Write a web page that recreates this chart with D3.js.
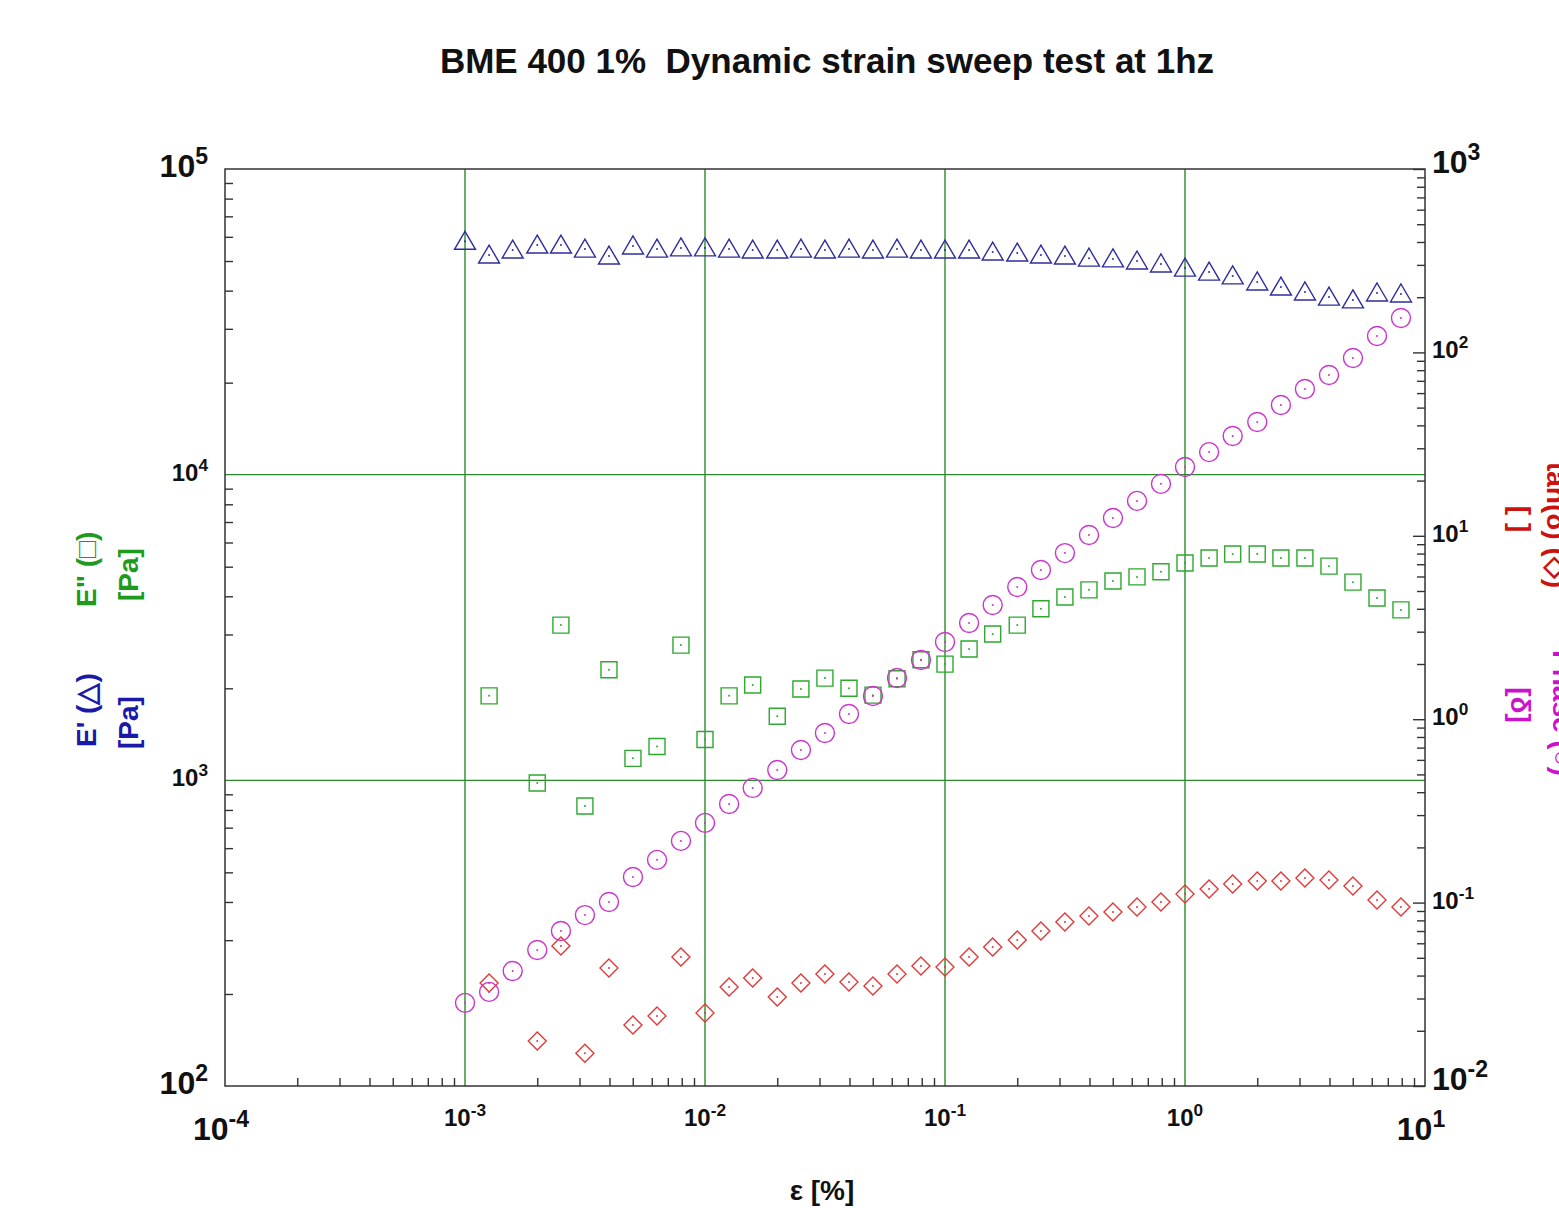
<!DOCTYPE html>
<html lang="en">
<head>
<meta charset="UTF-8">
<title>BME 400 1% Dynamic strain sweep test at 1hz</title>
<script src="https://cdn.jsdelivr.net/npm/d3@7"></script>
<style>
    html, body { margin: 0; padding: 0; background: #fff; }
    svg text { font-family: Arial, "Liberation Sans", sans-serif; font-weight: bold; }
    .axis path { display: none; }
    .axis line { stroke: #333; stroke-width: 1.4; }
</style>
</head>
<body>
<div id="chart"></div>
<script>
    /* strain [%], 10 points per decade */
    var strain = [0.001, 0.00126, 0.00158, 0.002, 0.00251, 0.00316, 0.00398, 0.00501, 0.00631, 0.00794,
        0.01, 0.0126, 0.0158, 0.02, 0.0251, 0.0316, 0.0398, 0.0501, 0.0631, 0.0794,
        0.1, 0.126, 0.158, 0.2, 0.251, 0.316, 0.398, 0.501, 0.631, 0.794,
        1, 1.26, 1.58, 2, 2.51, 3.16, 3.98, 5.01, 6.31, 7.94];
    /* E' [Pa] - triangles */
    var eStorage = [58000, 52300, 54300, 56400, 56400, 54700, 51900, 56000, 54700, 55200,
        55200, 54700, 54300, 54300, 54700, 54300, 54700, 54300, 54700, 54300,
        54300, 54300, 53500, 53100, 52300, 51900, 51100, 50800, 50000, 48900,
        47400, 46000, 44700, 42700, 41100, 39600, 38100, 37300, 39300, 39000];
    /* E'' [Pa] - squares */
    var eLoss = [null, 1890, null, 980, 3220, 824, 2300, 1180, 1290, 2770,
        1360, 1890, 2050, 1620, 1990, 2160, 2000, 1900, 2150, 2480,
        2400, 2690, 3010, 3220, 3640, 3980, 4200, 4490, 4630, 4810,
        5140, 5340, 5500, 5500, 5340, 5340, 5020, 4450, 3950, 3610];
    /* tan(delta) - diamonds */
    var tanDelta = [null, 0.0364, null, 0.0176, 0.058, 0.0151, 0.044, 0.0215, 0.0241, 0.0505,
        0.025, 0.0347, 0.0388, 0.0306, 0.0364, 0.0408, 0.0369, 0.0351, 0.0408, 0.0451,
        0.0446, 0.0505, 0.0573, 0.0625, 0.070, 0.0784, 0.0845, 0.0889, 0.0946, 0.1008,
        0.1114, 0.1186, 0.1263, 0.1312, 0.1312, 0.1362, 0.1328, 0.1232, 0.1033, 0.0946];
    /* circles on right axis */
    var phase = [0.0284, 0.0326, 0.0424, 0.0551, 0.070, 0.0855, 0.1008, 0.138, 0.171, 0.217,
        0.272, 0.345, 0.422, 0.528, 0.679, 0.841, 1.067, 1.338, 1.677, 2.103,
        2.636, 3.345, 4.198, 5.26, 6.51, 8.05, 10.1, 12.5, 15.5, 19.2,
        23.7, 28.6, 35.0, 41.7, 51.7, 63.2, 75.3, 93.2, 122.9, 154];

    var xDomain = [1e-4, 10];
    var yLeftDomain = [1e2, 1e5];
    var yRightDomain = [1e-2, 1e3];

    var W = 1559, H = 1208;
    var plot = {left: 225, right: 1425, top: 169, bottom: 1086};

    var svg = d3.select("#chart").append("svg")
        .attr("width", W)
        .attr("height", H);

    var x = d3.scaleLog().domain(xDomain).range([plot.left, plot.right]);
    var yL = d3.scaleLog().domain(yLeftDomain).range([plot.bottom, plot.top]);
    var yR = d3.scaleLog().domain(yRightDomain).range([plot.bottom, plot.top]);

    function isDecade(v) {
        var l = Math.log10(v);
        return Math.abs(l - Math.round(l)) < 1e-9;
    }

    /* grid */
    var grid = svg.append("g").attr("stroke", "#2a8a2a").attr("stroke-width", 1.4);
    x.ticks().filter(isDecade).forEach(function (v) {
        if (v <= xDomain[0] || v >= xDomain[1]) return;
        grid.append("line").attr("x1", x(v)).attr("x2", x(v))
            .attr("y1", plot.top).attr("y2", plot.bottom);
    });
    yL.ticks().filter(isDecade).forEach(function (v) {
        if (v <= yLeftDomain[0] || v >= yLeftDomain[1]) return;
        grid.append("line").attr("y1", yL(v)).attr("y2", yL(v))
            .attr("x1", plot.left).attr("x2", plot.right);
    });

    /* axis ticks (inside) */
    var xt = x.ticks(), ylt = yL.ticks(), yrt = yR.ticks();

    svg.append("g").attr("class", "axis")
        .attr("transform", "translate(0," + plot.bottom + ")")
        .call(d3.axisBottom(x).tickValues(xt.filter(function (v) { return !isDecade(v); }))
            .tickSize(-8).tickFormat(""));
    svg.append("g").attr("class", "axis")
        .attr("transform", "translate(" + plot.left + ",0)")
        .call(d3.axisLeft(yL).tickValues(ylt.filter(function (v) { return !isDecade(v); }))
            .tickSize(-8).tickFormat(""));
    svg.append("g").attr("class", "axis")
        .attr("transform", "translate(" + plot.right + ",0)")
        .call(d3.axisRight(yR).tickValues(yrt.filter(function (v) { return !isDecade(v); }))
            .tickSize(-8).tickFormat(""));
    svg.append("g").attr("class", "axis")
        .attr("transform", "translate(" + plot.right + ",0)")
        .call(d3.axisRight(yR).tickValues(yrt.filter(isDecade))
            .tickSize(-12).tickFormat(""));

    /* frame */
    svg.append("rect")
        .attr("x", plot.left).attr("y", plot.top)
        .attr("width", plot.right - plot.left).attr("height", plot.bottom - plot.top)
        .attr("fill", "none").attr("stroke", "#333").attr("stroke-width", 1.5);

    /* power-of-ten labels */
    function powLabel(g, v, px, py, anchor, size) {
        var e = Math.round(Math.log10(v));
        var t = g.append("text")
            .attr("x", px).attr("y", py)
            .attr("text-anchor", anchor)
            .attr("font-size", size)
            .attr("fill", "#111");
        t.append("tspan").text("10");
        t.append("tspan").attr("dy", -0.42 * size).attr("font-size", size * 0.72).text(e);
    }
    var labels = svg.append("g");
    xt.filter(isDecade).forEach(function (v) {
        var big = (v === xDomain[0] || v === xDomain[1]);
        var s = big ? 32 : 24;
        powLabel(labels, v, x(v) + (big ? -4 : 0), plot.bottom + (big ? 54 : 40), "middle", s);
    });
    ylt.filter(isDecade).forEach(function (v) {
        var big = (v === yLeftDomain[0] || v === yLeftDomain[1]);
        var s = big ? 32 : 24;
        powLabel(labels, v, 208, yL(v) + (big ? 8 : 6), "end", s);
    });
    yrt.filter(isDecade).forEach(function (v) {
        var big = (v === yRightDomain[0] || v === yRightDomain[1]);
        var s = big ? 32 : 24;
        powLabel(labels, v, 1432, yR(v) + (big ? 4 : 6), "start", s);
    });

    /* title and axis titles */
    svg.append("text").attr("x", 827).attr("y", 73)
        .attr("text-anchor", "middle").attr("font-size", 35).attr("fill", "#111")
        .text("BME 400 1%\u00a0\u00a0Dynamic strain sweep test at 1hz");
    svg.append("text").attr("x", 822).attr("y", 1200)
        .attr("text-anchor", "middle").attr("font-size", 28).attr("fill", "#111")
        .text("\u03b5 [%]");

    function vLabel(txt, px, py, rot, color, anchor) {
        svg.append("text")
            .attr("transform", "translate(" + px + "," + py + ") rotate(" + rot + ")")
            .attr("text-anchor", anchor)
            .attr("font-size", 28)
            .attr("fill", color)
            .text(txt);
    }
    vLabel("E' (\u25b3)", 96, 747, -90, "#1a1aa8", "start");
    vLabel("[Pa]", 138, 749, -90, "#1a1aa8", "start");
    vLabel("E\" (\u25a1)", 96, 607, -90, "#1e9a1e", "start");
    vLabel("[Pa]", 138, 601, -90, "#1e9a1e", "start");
    /* right axis titles run past the page edge, as in the source picture */
    vLabel("tan(\u03b4) (\u25c7)", 1547, 525, 90, "#cc1111", "middle");
    vLabel("[ ]", 1511, 519, 90, "#cc1111", "middle");
    vLabel("Phase (\u25cb)", 1553, 713, 90, "#cc11cc", "middle");
    vLabel("[\u03b4]", 1511, 705, 90, "#cc11cc", "middle");

    /* markers */
    function markerPath(shape) {
        if (shape === "triangle") return "M0,-10L10.5,8L-10.5,8Z";
        if (shape === "square") return "M-8,-8H8V8H-8Z";
        if (shape === "diamond") return "M0,-9L9,0L0,9L-9,0Z";
        return null;
    }
    function drawSeries(values, yScale, shape, color) {
        var pts = strain.map(function (s, i) { return [s, values[i]]; })
            .filter(function (d) { return d[1] != null; });
        var g = svg.append("g");
        var m = g.selectAll("g").data(pts).enter().append("g")
            .attr("transform", function (d) { return "translate(" + x(d[0]) + "," + yScale(d[1]) + ")"; });
        if (shape === "circle") {
            m.append("circle").attr("r", 9.5);
        } else {
            m.append("path").attr("d", markerPath(shape));
        }
        m.selectAll("circle,path").attr("fill", "none").attr("stroke", color).attr("stroke-width", 1.4);
        m.append("circle").attr("r", 1).attr("fill", color);
    }
    drawSeries(tanDelta, yR, "diamond", "#dd3b3b");
    drawSeries(eLoss, yL, "square", "#2ea82e");
    drawSeries(phase, yR, "circle", "#cc33cc");
    drawSeries(eStorage, yL, "triangle", "#2e2e9e");
</script>
</body>
</html>
